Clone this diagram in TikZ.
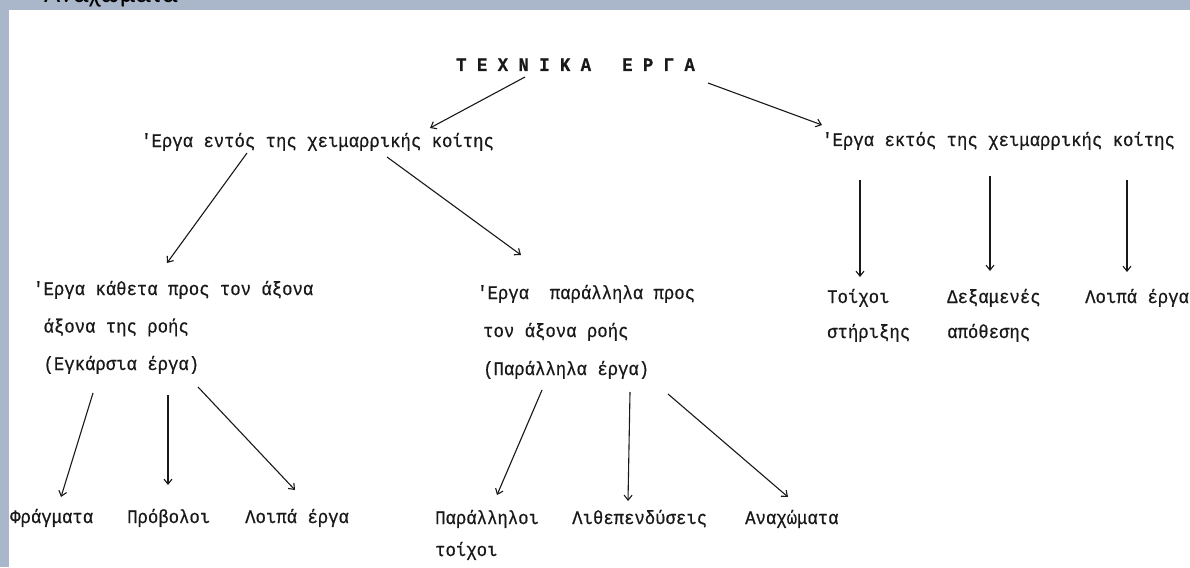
\documentclass[tikz,border=0pt]{standalone}
\usepackage{fontspec}
\setmonofont{Liberation Mono}[FakeStretch=0.91,FakeBold=0.6]
\newfontfamily\hdrfont{Carlito}
\usetikzlibrary{arrows.meta}
\definecolor{framecol}{RGB}{170,182,201}
\definecolor{inkcol}{RGB}{25,25,25}
\tikzset{
  lbl/.style={inner sep=0pt, anchor=base west, text=inkcol,
    font=\ttfamily\fontsize{19}{#1}\selectfont},
  lbl/.default=20,
  conn/.style={draw=inkcol, line width=1.1pt, -{Straight Barb[length=5pt,width=8pt]}},
}
\newcommand\lines[1]{\begin{tabular}[t]{@{}l@{}}#1\end{tabular}}
\begin{document}
\begin{tikzpicture}[x=1pt,y=-1pt]
\fill[framecol] (0,0) rectangle (1190,567);
\fill[white] (9,10) rectangle (1190,567);
\useasboundingbox (0,0) rectangle (1190,567);
\begin{scope}
\clip (0,0) rectangle (1190,10);
\node[inner sep=0pt, anchor=base west, text=black, font=\hdrfont\fontsize{28}{30}\selectfont] (hdr) at (44,3) {Αναχώματα};
\end{scope}

\node[lbl, font=\ttfamily\bfseries\fontsize{19}{20}\selectfont] (title) at (456,71) {Τ Ε Χ Ν Ι Κ Α~~~Ε Ρ Γ Α};
\node[lbl] (L1) at (141,147) {'Εργα εντός της χειμαρρικής κοίτης};
\node[lbl] (R1) at (822,146) {'Εργα εκτός της χειμαρρικής κοίτης};

\node[lbl=37.5] (M1) at (33,295) {\lines{'Εργα κάθετα προς τον άξονα\\\hphantom{'}άξονα της ροής\\\hphantom{'}(Εγκάρσια έργα)}};
\node[lbl=38] (M2) at (477,299) {\lines{'Εργα~ παράλληλα προς\\\hspace{6pt}τον άξονα ροής\\\hspace{6pt}(Παράλληλα έργα)}};

\node[lbl=35] (TS) at (827,303) {\lines{Τοίχοι\\στήριξης}};
\node[lbl=35] (DA) at (947,303) {\lines{Δεξαμενές\\απόθεσης}};
\node[lbl] (RL) at (1085,303) {Λοιπά έργα};

\node[lbl] (F) at (10,523) {Φράγματα};
\node[lbl] (P) at (127,523) {Πρόβολοι};
\node[lbl] (LE) at (245,523) {Λοιπά έργα};

\node[lbl=32] (PT) at (435,524) {\lines{Παράλληλοι\\τοίχοι}};
\node[lbl] (LD) at (572,524) {Λιθεπενδύσεις};
\node[lbl] (AN) at (745,524) {Αναχώματα};

\draw[conn] ([xshift=69,yshift=-6]title.base west) -- ([xshift=289,yshift=19]L1.base west);
\draw[conn] ([xshift=252,yshift=-12]title.base west) -- ([xshift=0,yshift=21]R1.base west);

\draw[conn] ([xshift=106,yshift=-6]L1.base west) -- ([xshift=134,yshift=32]M1.base west);
\draw[conn] ([xshift=246,yshift=-10]L1.base west) -- ([xshift=44,yshift=44]M2.base west);

\draw[conn] ([xshift=38,yshift=-34]R1.base west) -- ([xshift=33,yshift=26]TS.base west);
\draw[conn] ([xshift=168,yshift=-30]R1.base west) -- ([xshift=43,yshift=32]DA.base west);
\draw[conn] ([xshift=305,yshift=-34]R1.base west) -- ([xshift=42,yshift=31]RL.base west);

\draw[conn] ([xshift=60,yshift=-98]M1.base west) -- ([xshift=51,yshift=26]F.base west);
\draw[conn] ([xshift=135,yshift=-100]M1.base west) -- ([xshift=41,yshift=38]P.base west);
\draw[conn] ([xshift=165,yshift=-92]M1.base west) -- ([xshift=50,yshift=33]LE.base west);

\draw[conn] ([xshift=65,yshift=-91]M2.base west) -- ([xshift=62,yshift=29]PT.base west);
\draw[conn] ([xshift=153,yshift=-93]M2.base west) -- ([xshift=56,yshift=23]LD.base west);
\draw[conn] ([xshift=191,yshift=-95]M2.base west) -- ([xshift=43,yshift=27]AN.base west);
\end{tikzpicture}
\end{document}
